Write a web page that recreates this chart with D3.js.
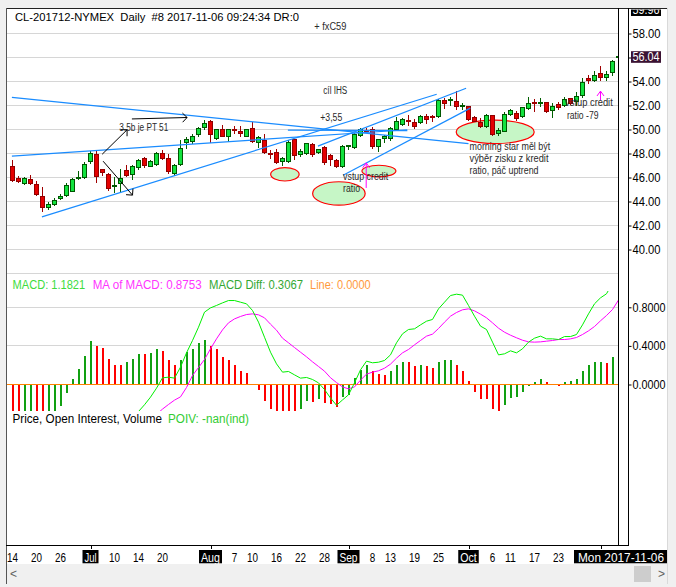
<!DOCTYPE html>
<html lang="en">
<head>
<meta charset="utf-8">
<title>CL-201712-NYMEX Daily</title>
<script src="https://d3js.org/d3.v7.min.js"></script>
<style>
  body { margin: 0; background: #f0f0f0; }
  svg { display: block; }
  text { font-family: "Liberation Sans", Arial, sans-serif; white-space: pre; }
</style>
</head>
<body>
<script>
// bars: Jun 14 2017 .. Nov 6 2017 (last bar just opened)
var open = [46.94,45.88,45.50,45.86,45.44,44.44,43.50,43.75,44.25,44.50,
  44.86,45.88,46.00,47.30,47.94,46.67,46.28,45.22,45.50,46.61,
  46.25,46.83,47.58,46.94,47.11,48.00,47.58,46.33,47.11,48.89,
  48.97,49.58,50.16,50.64,49.22,50.00,49.39,50.03,49.86,49.44,
  50.08,48.91,49.11,48.00,48.08,47.30,47.30,49.16,47.91,48.00,
  48.77,48.05,48.47,47.86,47.44,46.94,48.53,48.47,49.47,49.99,
  49.99,48.55,49.25,49.25,50.00,50.44,50.78,50.58,50.58,51.11,
  51.14,51.05,52.44,52.36,52.36,51.89,51.89,50.97,50.55,50.22,
  51.19,49.66,49.86,51.25,51.33,51.05,51.75,52.22,52.17,52.22,
  51.61,52.08,52.03,52.58,52.30,52.80,54.25,54.11,54.67,54.33,
  54.75,56.04];
var high = [47.44,46.11,46.05,46.17,45.72,45.17,43.97,44.33,44.61,45.55,
  45.97,46.53,47.30,48.22,48.22,46.75,46.39,46.05,46.67,47.03,
  47.08,47.58,47.72,47.50,48.11,48.33,47.94,47.16,49.11,49.39,
  49.61,50.22,50.77,50.77,50.08,50.36,50.08,50.28,50.28,50.08,
  50.64,49.44,49.61,48.33,48.41,47.72,49.11,49.25,48.41,48.89,
  48.89,48.41,48.64,48.00,47.58,48.75,48.75,49.72,50.16,50.16,
  50.22,49.25,49.53,50.22,51.05,50.97,51.19,50.91,51.25,51.33,
  51.25,52.58,52.64,52.72,53.19,52.17,52.00,51.14,50.97,51.33,
  51.25,50.14,51.42,51.75,51.53,51.89,52.72,52.58,52.64,52.30,
  52.17,52.30,52.72,52.64,53.14,54.28,54.53,54.86,55.30,54.86,
  55.78,56.04];
var low = [45.63,45.55,45.44,45.44,44.50,43.19,43.36,43.63,44.17,44.44,
  44.80,45.83,45.94,47.17,45.55,46.19,44.94,44.72,44.80,46.05,
  45.83,46.67,46.83,46.89,47.03,47.50,46.33,46.19,47.03,48.41,
  48.83,49.44,50.00,48.89,49.16,49.39,49.02,49.66,49.44,49.39,
  48.91,48.50,48.00,47.58,47.16,47.03,47.22,47.53,47.78,47.94,
  47.72,47.97,47.11,47.03,46.80,46.86,48.33,48.41,49.39,49.80,
  48.41,48.19,48.91,49.11,49.94,50.30,50.36,50.08,50.50,50.50,
  50.69,50.97,51.75,51.97,51.69,51.69,50.75,50.64,50.14,50.14,
  49.47,49.53,49.80,51.14,50.78,50.97,51.69,51.53,51.89,51.42,
  50.97,51.69,51.89,52.08,52.03,52.65,53.83,54.03,54.11,54.11,
  54.53,56.04];
var close = [45.78,45.69,45.92,45.50,44.58,43.50,43.78,44.11,44.44,45.36,
  45.86,46.00,47.11,48.00,46.05,46.39,45.08,45.36,45.92,46.19,
  46.94,47.39,47.03,47.30,48.00,47.58,46.47,47.03,48.41,49.16,
  49.44,50.05,50.50,49.58,50.00,49.44,50.03,49.94,49.66,50.03,
  49.02,49.30,48.08,47.94,47.25,47.58,48.91,47.86,48.19,48.83,
  47.91,48.33,47.25,47.53,46.89,48.61,48.61,49.58,49.99,49.89,
  48.55,49.16,49.39,50.08,50.69,50.86,50.69,50.22,51.05,50.86,
  51.05,52.44,52.17,52.44,51.89,52.03,50.85,50.69,50.28,51.19,
  49.58,49.94,51.25,51.61,50.92,51.80,52.17,52.17,52.22,51.47,
  51.89,51.80,52.50,52.17,52.72,53.90,54.10,54.47,54.30,54.61,
  55.69,56.04];

// MACD study (null = below the visible part of the pane)
var N = null;
var macd = [N,N,N,N,N,N,N,N,N,N, N,N,N,N,N,N,N,N,N,N,
  -0.36,-0.28,-0.21,-0.131,-0.038,0.069,0.076,0.066,0.18,0.328,
  0.456,0.594,0.75,0.794,0.819,0.846,0.87,0.87,0.853,0.836,
  0.767,0.646,0.49,0.335,0.214,0.128,0.135,0.10,0.066,0.073,
  0.052,0.017,-0.052,-0.14,-0.215,-0.16,-0.107,0.017,0.152,0.242,
  0.225,0.231,0.249,0.307,0.432,0.525,0.57,0.577,0.618,0.656,
  0.674,0.784,0.853,0.922,0.936,0.926,0.819,0.708,0.605,0.57,
  0.439,0.307,0.318,0.349,0.328,0.37,0.439,0.48,0.501,0.473,
  0.473,0.466,0.497,0.497,0.518,0.618,0.732,0.836,0.898,0.94,
  1.05,1.1821];
var macdMa = [N,N,N,N,N,N,N,N,N,N, N,N,N,N,N,N,N,N,N,N, N,N,N,
  -0.38,-0.31,-0.255,-0.207,-0.162,-0.128,-0.031,
  0.093,0.176,0.259,0.37,0.473,0.566,0.639,0.68,0.705,0.725,
  0.732,0.722,0.691,0.625,0.563,0.48,0.432,0.383,0.335,0.287,
  0.235,0.187,0.138,0.07,0.02,-0.025,-0.045,-0.025,0.045,0.107,
  0.128,0.142,0.169,0.211,0.273,0.328,0.363,0.411,0.456,0.501,
  0.522,0.58,0.646,0.708,0.746,0.774,0.784,0.763,0.729,0.691,
  0.639,0.584,0.542,0.511,0.484,0.459,0.442,0.439,0.442,0.449,
  0.456,0.466,0.466,0.473,0.487,0.518,0.556,0.601,0.66,0.715,
  0.777,0.8753];
var macdDiff = [-0.30,-0.33,-0.31,-0.29,-0.31,-0.34,-0.33,-0.31,-0.225,-0.086,
  0.059,0.162,0.30,0.446,0.394,0.383,0.266,0.207,0.204,0.228,
  0.269,0.321,0.311,0.322,0.363,0.342,0.249,0.207,0.259,0.332,
  0.373,0.425,0.456,0.404,0.363,0.29,0.249,0.197,0.145,0.114,
  0.01,-0.062,-0.173,-0.252,-0.29,-0.31,-0.32,-0.33,-0.252,-0.173,
  -0.183,-0.149,-0.193,-0.20,-0.235,-0.131,-0.107,0.066,0.155,0.204,
  0.135,0.11,0.10,0.145,0.207,0.238,0.228,0.19,0.197,0.194,
  0.166,0.238,0.249,0.25,0.197,0.145,0.041,-0.073,-0.149,-0.155,
  -0.252,-0.28,-0.211,-0.138,-0.131,-0.079,-0.017,0.031,0.062,0.021,
  0.010,-0.017,0.031,0.032,0.052,0.135,0.197,0.228,0.229,0.227,
  0.28,0.3067];
var diffBefore = -0.28;   // value of the bar before the first one shown

// axis labels
var priceTicks = [40, 42, 44, 46, 48, 50, 52, 54, 56, 58];
var macdTicks = [0, 0.4, 0.8];
var topPrice = 59.96;
var dateLabels = [[0,"14"],[4,"20"],[8,"26"],[13,"Jul"],[17,"10"],[21,"14"],[25,"20"],
  [33,"Aug"],[37,"7"],[40,"10"],[44,"16"],[48,"22"],[52,"28"],[56,"Sep"],[60,"8"],
  [63,"13"],[67,"19"],[71,"25"],[76,"Oct"],[80,"6"],[83,"11"],[87,"17"],[91,"23"]];
var monthStarts = [13, 33, 56, 76, 98];
var lastDate = "Mon 2017-11-06";

// drawings on the chart: [bar, price]
var trendLines = [
  [[-0.1, 52.67], [76, 48.83]],
  [[-0.1, 47.78], [65.8, 49.98]],
  [[4.9, 42.72], [70.7, 52.94]],
  [[50.9, 48.61], [75.6, 53.44]],
  [[55.1, 46.19], [76.3, 51.78]],
  [[45.9, 49.94], [65.8, 49.90]]
];
var blackArrows = [
  [[19.9, 50.88], [29.1, 51.0]],
  [[14.95, 47.94], [19.1, 49.98]],
  [[15.1, 47.36], [20.0, 44.53]]
];
var pinkArrows = [
  [[58.95, 45.13], [58.95, 47.22]],
  [[98.0, 52.45], [98.0, 53.2]]
];
// [bar, price, half width in bars, half height in price]
var ovals = [
  [45.4, 46.27, 2.37, 0.56],
  [54.4, 44.67, 4.38, 0.975],
  [61.07, 46.54, 2.83, 0.48],
  [80.45, 49.80, 6.5, 0.975]
];
// [bar, price, text, width px]
var notes = [
  [17.8, 50.19, "3.5b je PT 51", 49],
  [51.3, 51.0, "+3,55", 22],
  [51.8, 53.28, "cíl IHS", 24],
  [50.3, 58.6, "+ fxC59", 32],
  [55.1, 46.11, "vstup credit", 45],
  [55.1, 45.13, "ratio", 17],
  [76.17, 48.61, "morning star měl být", 80.7],
  [76.17, 47.63, "výběr zisku z kredit", 79],
  [76.17, 46.61, "ratio, páč uptrend", 69],
  [92.1, 52.22, "vstup credit", 47.7],
  [92.4, 51.19, "ratio -79", 31.6]
];

var W = 676, H = 587;
var x = d3.scaleLinear().domain([0, 101]).range([12.5, 618.5]);
var yP = d3.scaleLinear().domain([38, 58]).range([273.5, 33.5]);
var yM = d3.scaleLinear().domain([0, 0.8]).range([384.5, 307.3]);
var f2 = d3.format(".2f"), f4 = d3.format(".4f");
var last = close.length - 1;

var svg = d3.select("body").append("svg").attr("width", W).attr("height", H);

function txt(g, tx, ty, s, size, color, len) {
  var t = g.append("text").attr("x", tx).attr("y", ty).text(s)
    .attr("font-size", size).attr("fill", color);
  if (len) t.attr("textLength", len).attr("lengthAdjust", "spacingAndGlyphs");
  return t;
}

// window and frame
svg.append("rect").attr("width", W).attr("height", H).attr("fill", "#f0f0f0");
svg.append("rect").attr("x", 6).attr("y", 8).attr("width", 662).attr("height", 556).attr("fill", "#fff");
var defs = svg.append("defs");
defs.append("clipPath").attr("id", "cPrice").append("rect")
  .attr("x", 6).attr("y", 9).attr("width", 613).attr("height", 270);
defs.append("clipPath").attr("id", "cMacd").append("rect")
  .attr("x", 6).attr("y", 291).attr("width", 613).attr("height", 120);
defs.append("clipPath").attr("id", "cAxisTop").append("rect")
  .attr("x", 629).attr("y", 9.5).attr("width", 40).attr("height", 20);
defs.append("clipPath").attr("id", "cAxisLow").append("rect")
  .attr("x", 629).attr("y", 269.5).attr("width", 40).attr("height", 20);

// grid
var grid = svg.append("g").attr("stroke", "#d6d6d6").attr("shape-rendering", "crispEdges");
priceTicks.concat([38]).forEach(function (p) {
  grid.append("line").attr("x1", 6).attr("x2", 619).attr("y1", yP(p)).attr("y2", yP(p));
});
[0.4, 0.8].forEach(function (v) {
  grid.append("line").attr("x1", 6).attr("x2", 619).attr("y1", yM(v)).attr("y2", yM(v));
});

// price pane
var pane = svg.append("g").attr("clip-path", "url(#cPrice)");

pane.selectAll("ellipse").data(ovals).enter().append("ellipse")
  .attr("cx", function (d) { return x(d[0]); })
  .attr("cy", function (d) { return yP(d[1]); })
  .attr("rx", function (d) { return x(d[2]) - x(0); })
  .attr("ry", function (d) { return yP(0) - yP(d[3]); })
  .attr("fill", "#c6f6c6").attr("stroke", "#ff0000").attr("stroke-width", 1.2);

var idx = d3.range(close.length);
var candles = pane.append("g").attr("shape-rendering", "crispEdges");
candles.selectAll("line.wick").data(idx).enter().append("line")
  .attr("x1", function (i) { return x(i); }).attr("x2", function (i) { return x(i); })
  .attr("y1", function (i) { return yP(high[i]); })
  .attr("y2", function (i) { return yP(low[i]) + 0.5; })
  .attr("stroke", function (i) { return close[i] >= open[i] ? "#006000" : "#a00000"; });
candles.selectAll("rect").data(idx.filter(function (i) {
    return Math.abs(yP(open[i]) - yP(close[i])) >= 1.5; }))
  .enter().append("rect")
  .attr("x", function (i) { return x(i) - 2; })
  .attr("width", 4)
  .attr("y", function (i) { return yP(Math.max(open[i], close[i])); })
  .attr("height", function (i) { return Math.abs(yP(open[i]) - yP(close[i])); })
  .attr("fill", function (i) { return close[i] >= open[i] ? "#12e23e" : "#e40000"; })
  .attr("stroke", function (i) { return close[i] >= open[i] ? "#005500" : "#900000"; });
candles.selectAll("line.doji").data(idx.filter(function (i) {
    return Math.abs(yP(open[i]) - yP(close[i])) < 1.5; }))
  .enter().append("line")
  .attr("x1", function (i) { return x(i) - 2.5; }).attr("x2", function (i) { return x(i) + 2.5; })
  .attr("y1", function (i) { return yP(close[i]); }).attr("y2", function (i) { return yP(close[i]); })
  .attr("stroke-width", 2)
  .attr("stroke", function (i) { return close[i] >= open[i] ? "#006000" : "#a00000"; });

pane.selectAll("line.trend").data(trendLines).enter().append("line")
  .attr("x1", function (d) { return x(d[0][0]); }).attr("y1", function (d) { return yP(d[0][1]); })
  .attr("x2", function (d) { return x(d[1][0]); }).attr("y2", function (d) { return yP(d[1][1]); })
  .attr("stroke", "#1a8cff").attr("stroke-width", 1.2);

function arrow(g, a, b, color, len, spread) {
  var x0 = x(a[0]), y0 = yP(a[1]), x1 = x(b[0]), y1 = yP(b[1]);
  g.append("line").attr("x1", x0).attr("y1", y0).attr("x2", x1).attr("y2", y1)
    .attr("stroke", color);
  var ang = Math.atan2(y0 - y1, x0 - x1);
  [-spread, spread].forEach(function (s) {
    g.append("line").attr("x1", x1).attr("y1", y1)
      .attr("x2", x1 + len * Math.cos(ang + s)).attr("y2", y1 + len * Math.sin(ang + s))
      .attr("stroke", color);
  });
}
blackArrows.forEach(function (d) { arrow(pane, d[0], d[1], "#000", 6.5, Math.PI / 4); });
pinkArrows.forEach(function (d) { arrow(pane, d[0], d[1], "#ff00ff", 6, 0.62); });

notes.forEach(function (d) {
  txt(pane, x(d[0]), yP(d[1]) + 3.6, d[2], "10px", "#2a2a2a", d[3]);
});

// MACD pane
var mp = svg.append("g").attr("clip-path", "url(#cMacd)");
mp.append("g").attr("shape-rendering", "crispEdges")
  .selectAll("rect").data(macdDiff).enter().append("rect")
  .attr("x", function (d, i) { return x(i) - 0.5; })
  .attr("width", function (d, i) { return i === last ? 1 : 2; })
  .attr("y", function (d) { return Math.min(yM(d), yM(0)); })
  .attr("height", function (d) { return Math.abs(yM(d) - yM(0)); })
  .attr("fill", function (d, i) {
    if (i === last) return "#ff00ff";
    var prev = i === 0 ? diffBefore : macdDiff[i - 1];
    return d >= prev ? "#12a012" : "#ff0000";
  });
mp.append("line").attr("x1", 6).attr("x2", 619).attr("y1", yM(0)).attr("y2", yM(0))
  .attr("stroke", "#ff8000").attr("stroke-width", 1.2).attr("shape-rendering", "crispEdges");
var lineGen = d3.line().defined(function (d) { return d != null; })
  .x(function (d, i) { return x(i); }).y(function (d) { return yM(d); });
mp.append("path").datum(macdMa).attr("d", lineGen)
  .attr("fill", "none").attr("stroke", "#ff00ff").attr("stroke-width", 1);
mp.append("path").datum(macd).attr("d", lineGen)
  .attr("fill", "none").attr("stroke", "#00f000").attr("stroke-width", 1);

// frame lines
var frame = svg.append("g").attr("stroke", "#000").attr("shape-rendering", "crispEdges");
frame.append("line").attr("x1", 6).attr("x2", 668).attr("y1", 8.5).attr("y2", 8.5).attr("stroke", "#222");
frame.append("line").attr("x1", 6.5).attr("x2", 6.5).attr("y1", 8).attr("y2", 584).attr("stroke", "#555");
frame.append("line").attr("x1", 618.5).attr("x2", 618.5).attr("y1", 8).attr("y2", 545);
frame.append("line").attr("x1", 628.5).attr("x2", 628.5).attr("y1", 8).attr("y2", 545);
frame.append("line").attr("x1", 6).attr("x2", 629).attr("y1", 545.5).attr("y2", 545.5);
frame.append("line").attr("x1", 667.5).attr("x2", 667.5).attr("y1", 8).attr("y2", 584).attr("stroke", "#d9d9d9");
monthStarts.forEach(function (i) {
  frame.append("line").attr("x1", Math.round(x(i)) + 0.5).attr("x2", Math.round(x(i)) + 0.5)
    .attr("y1", 545).attr("y2", 549);
});

// price axis
function styleAxis(g, len) {
  g.select(".domain").remove();
  g.attr("font-family", null).attr("font-size", null);
  g.selectAll(".tick line").attr("stroke", "#000");
  g.selectAll("text").attr("font-size", "12px").attr("fill", "#000")
    .attr("textLength", len).attr("lengthAdjust", "spacingAndGlyphs");
}
var pAxis = svg.append("g").attr("transform", "translate(628.5,0)")
  .call(d3.axisRight(yP).tickValues(priceTicks).tickSize(3).tickPadding(1).tickFormat(f2));
styleAxis(pAxis, 28);
var pAxisLow = svg.append("g").attr("transform", "translate(628.5,0)").attr("clip-path", "url(#cAxisLow)")
  .call(d3.axisRight(yP).tickValues([38]).tickSize(3).tickPadding(1).tickFormat(f2));
styleAxis(pAxisLow, 28);
var mAxis = svg.append("g").attr("transform", "translate(628.5,0)")
  .call(d3.axisRight(yM).tickValues(macdTicks).tickSize(3).tickPadding(1).tickFormat(f4));
styleAxis(mAxis, 33);

var topBox = svg.append("g").attr("clip-path", "url(#cAxisTop)");
topBox.append("rect").attr("x", 631).attr("y", yP(topPrice) - 6).attr("width", 30).attr("height", 12).attr("fill", "#000");
txt(topBox, 632.5, yP(topPrice) + 4.3, f2(topPrice), "12px", "#fff", 27);
svg.append("rect").attr("x", 631).attr("y", yP(close[last]) - 5.8).attr("width", 30).attr("height", 11.6)
  .attr("fill", "#3a1232");
txt(svg, 632.5, yP(close[last]) + 4.3, f2(close[last]), "12px", "#fff", 27);

// date axis
var months = { Jul: 12, Aug: 19, Sep: 18, Oct: 16.5 };
dateLabels.forEach(function (d) {
  var cx = x(d[0]);
  if (months[d[1]]) {
    var w = months[d[1]];
    svg.append("rect").attr("x", cx - w / 2 - 2).attr("y", 550).attr("width", w + 4).attr("height", 13.3).attr("fill", "#000");
    txt(svg, cx - w / 2, 561.5, d[1], "13.5px", "#fff", w);
  } else {
    var w2 = d[1].length * 5.5;
    txt(svg, cx - w2 / 2, 561.5, d[1], "13.5px", "#000", w2);
  }
});
svg.append("rect").attr("x", 574).attr("y", 550).attr("width", 93).attr("height", 13.3).attr("fill", "#000");
txt(svg, 578, 561.5, lastDate, "13.5px", "#fff", 86);

// scrollbar
svg.append("rect").attr("x", 7).attr("y", 564).attr("width", 660).attr("height", 20).attr("fill", "#f0f0f0");
svg.append("rect").attr("x", 634).attr("y", 566).attr("width", 17).attr("height", 16).attr("fill", "#cdcdcd");
txt(svg, 10, 578, "<", "12px", "#606060");
txt(svg, 658, 578, ">", "12px", "#606060");

// titles and study legends
txt(svg, 15, 20.5, "CL-201712-NYMEX  Daily  #8 2017-11-06 09:24:34 DR:0", "11.5px", "#000", 284);
txt(svg, 12.5, 288.5, "MACD: " + f4(macd[last]), "12px", "#3ddc3d", 72.7);
txt(svg, 92.7, 288.5, "MA of MACD: " + f4(macdMa[last]), "12px", "#ff33ff", 109);
txt(svg, 209, 288.5, "MACD Diff: " + f4(macdDiff[last]), "12px", "#33a833", 94);
txt(svg, 310, 288.5, "Line: " + f4(0), "12px", "#ff9a3c", 60.7);
txt(svg, 12.5, 423, "Price, Open Interest, Volume", "12px", "#000", 149.4);
txt(svg, 168, 423, "POIV: -nan(ind)", "12px", "#33cc33", 81);
</script>
</body>
</html>
